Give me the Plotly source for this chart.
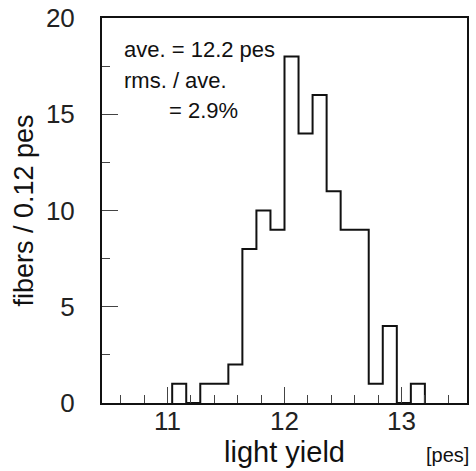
import plotly.graph_objects as go

# ---- data ----
bin_start = 11.04          # left edge of first non-empty bin [pes]
bin_width = 0.12           # pes per bin
counts = [1, 0, 1, 1, 2, 8, 10, 9, 18, 14, 16, 11, 9, 9, 1, 4, 0, 1]
x_range = [10.44, 13.56]
y_range = [0, 20]
x_tick_step = 1
y_tick_step = 5
stat_lines = ["ave. = 12.2 pes", "rms. / ave.", "= 2.9%"]

# step outline built from bin edges and counts
edges = [round(bin_start + i * bin_width, 4) for i in range(len(counts) + 1)]
xs = [edges[0]] + edges
ys = [0] + counts + [0]

FONT = "Liberation Sans, Arial, sans-serif"
INK = "#111111"

fig = go.Figure()
fig.add_trace(go.Scatter(
    x=xs, y=ys, mode="lines", line=dict(shape="hv", color=INK, width=2),
    showlegend=False, hoverinfo="skip",
))

fig.update_layout(
    width=476, height=471,
    margin=dict(l=102, r=9, t=18, b=68),
    paper_bgcolor="white", plot_bgcolor="white",
    font=dict(family=FONT, color=INK),
    showlegend=False,
)

fig.update_xaxes(
    range=x_range, tick0=0, dtick=x_tick_step,
    ticks="inside", ticklen=16, tickwidth=1, tickcolor="#444",
    minor=dict(ticks="inside", ticklen=8, tickwidth=1, tickcolor="#444", tick0=0, dtick=0.2),
    showline=True, mirror=True, linecolor=INK, linewidth=2,
    showgrid=False, zeroline=False, automargin=False,
    tickfont=dict(size=26, color="#222", family=FONT),
    ticklabelstandoff=-6,
    title=dict(text="light yield", font=dict(size=29, color="#111", family=FONT), standoff=2),
)
fig.update_yaxes(
    range=y_range, tick0=0, dtick=y_tick_step,
    ticks="inside", ticklen=16, tickwidth=1, tickcolor="#444",
    minor=dict(ticks="inside", ticklen=8, tickwidth=1, tickcolor="#444", tick0=0, dtick=2.5),
    showline=True, mirror=True, linecolor=INK, linewidth=2,
    showgrid=False, zeroline=False, automargin=False,
    tickfont=dict(size=26, color="#222", family=FONT),
    ticklabelstandoff=20,
    title=dict(text="fibers / 0.12 pes", font=dict(size=27, color="#111", family=FONT), standoff=4),
)

ann_pos = [(0.055, 0.9175), (0.055, 0.8385), (0.178, 0.760)]
for txt, (ax, ay) in zip(stat_lines, ann_pos):
    fig.add_annotation(
        text=txt, xref="paper", yref="paper", x=ax, y=ay,
        xanchor="left", yanchor="middle", showarrow=False,
        font=dict(size=22, color=INK, family=FONT),
    )

fig.add_annotation(
    text="[pes]", xref="paper", yref="paper", x=1.012, y=-0.136,
    xanchor="right", yanchor="middle", showarrow=False,
    font=dict(size=20, color=INK, family=FONT),
)

fig.write_html("out.html")
